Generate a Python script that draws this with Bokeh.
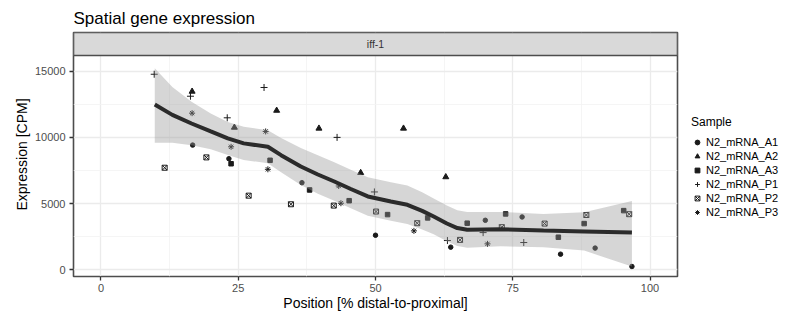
from bokeh.plotting import figure
from bokeh.models import (Range1d, FixedTicker, Legend, LegendItem, BoxAnnotation, Label)
from bokeh.embed import file_html
from bokeh.resources import INLINE

FONT = "Liberation Sans"

# ---- data ----
a1_x = [16.7, 23.3, 36.6, 50.0, 63.7, 70.0, 76.7, 83.7, 90.0, 96.7]
a1_y = [9420, 8390, 6580, 2610, 1710, 3740, 3990, 1180, 1640, 250]
a2_x = [16.6, 24.3, 32.0, 39.7, 47.3, 55.1, 62.8]
a2_y = [13470, 10750, 12030, 10680, 7330, 10680, 7010]
a3_x = [23.7, 30.8, 38.0, 45.2, 52.2, 59.5, 66.7, 73.7, 83.3, 88.0, 95.2]
a3_y = [8010, 8270, 6030, 5220, 4170, 3920, 3520, 4220, 2460, 3490, 4470]
p1_x = [9.7, 16.3, 23.0, 29.7, 43.0, 49.8, 63.1, 69.6, 77.0]
p1_y = [14770, 13110, 11480, 13770, 10000, 5880, 2210, 2810, 2060]
p2_x = [11.6, 19.2, 26.9, 34.6, 42.4, 50.1, 57.6, 65.4, 73.0, 80.8, 88.4, 96.2]
p2_y = [7710, 8490, 5600, 4950, 4850, 4400, 3520, 2260, 3220, 3490, 4140, 4200]
p3_x = [16.6, 23.7, 30.0, 30.4, 43.3, 43.7, 57.0, 70.4]
p3_y = [11830, 9290, 10450, 7590, 6330, 5030, 2940, 1960]

smooth_x = [9.8, 13, 16.5, 20, 23.1, 26, 30.4, 32.8, 36.4, 39.5, 42.5, 45.5,
            48.6, 52.8, 55.8, 58.5, 60.6, 63, 64.9, 66.7, 72.8, 80.6, 88, 96.7]
smooth_y = [12480, 11700, 11050, 10450, 9920, 9550, 9290, 8660, 7800, 7200, 6670, 6100,
            5540, 5160, 4910, 4450, 4030, 3500, 3150, 3020, 3070, 2960, 2900, 2810]
upper_y = [15230, 13800, 12700, 11800, 11170, 10800, 10540, 9960, 9200, 8650, 8120, 7550,
           6990, 6610, 6360, 5850, 5380, 4850, 4500, 4370, 4370, 4210, 4350, 5200]
lower_y = [9600, 9600, 9400, 9100, 8670, 8300, 8040, 7360, 6400, 5750, 5220, 4650,
           4090, 3710, 3460, 3050, 2680, 2150, 1800, 1670, 1770, 1710, 1450, 250]

x_ticks = [0, 25, 50, 75, 100]
x_minor = [12.5, 37.5, 62.5, 87.5]
y_ticks = [0, 5000, 10000, 15000]
y_minor = [2500, 7500, 12500]
samples = ["N2_mRNA_A1", "N2_mRNA_A2", "N2_mRNA_A3", "N2_mRNA_P1", "N2_mRNA_P2", "N2_mRNA_P3"]
facet = "iff-1"

# ---- layout ----
PANEL_TOP = 16186
STRIP_TOP = 17923

p = figure(frame_width=604, frame_height=244,
           min_border_left=73, min_border_right=110, min_border_top=32, min_border_bottom=36,
           x_range=Range1d(-5, 105), y_range=Range1d(-506, STRIP_TOP),
           output_backend="svg", toolbar_location=None)
p.background_fill_color = "white"
p.border_fill_color = "white"
p.outline_line_color = "#4d4d4d"
p.outline_line_width = 1.6

p.title.text = "Spatial gene expression"
p.title.text_font = FONT
p.title.text_font_size = "17px"
p.title.text_font_style = "normal"
p.title.text_color = "#000000"
p.title.align = "left"
p.title.standoff = 10

for g, t, m in ((p.xgrid, x_ticks, x_minor), (p.ygrid, y_ticks, y_minor)):
    g.ticker = FixedTicker(ticks=t, minor_ticks=m)
    g.grid_line_color = "#ebebeb"
    g.grid_line_width = 1.3
    g.minor_grid_line_color = "#f2f2f2"
    g.minor_grid_line_width = 0.8

p.xaxis.ticker = FixedTicker(ticks=x_ticks)
p.yaxis.ticker = FixedTicker(ticks=y_ticks)
for ax in (p.xaxis[0], p.yaxis[0]):
    ax.axis_line_color = None
    ax.minor_tick_line_color = None
    ax.major_tick_line_color = "#333333"
    ax.major_tick_line_width = 1.3
    ax.major_tick_out = 4
    ax.major_tick_in = 0
    ax.major_label_text_font = FONT
    ax.major_label_text_font_size = "11px"
    ax.major_label_text_color = "#4d4d4d"
    ax.major_label_standoff = 4
    ax.axis_label_text_font = FONT
    ax.axis_label_text_font_size = "14px"
    ax.axis_label_text_font_style = "normal"
    ax.axis_label_text_color = "#000000"
    ax.axis_label_standoff = 2
p.xaxis.axis_label = "Position [% distal-to-proximal]"
p.yaxis.axis_label = "Expression [CPM]"
p.yaxis.major_label_orientation = "horizontal"
p.xaxis.major_label_standoff = 3
p.xaxis.axis_label_standoff = 0

# ---- points ----
C = "#1a1a1a"
r_a1 = p.scatter(a1_x, a1_y, marker="circle", size=4.5, color=C)
r_a2 = p.scatter(a2_x, a2_y, marker="triangle", size=6, color=C)
r_a3 = p.scatter(a3_x, a3_y, marker="square", size=4.5, color=C)
r_p1 = p.scatter(p1_x, p1_y, marker="cross", size=7, line_color=C, line_width=1)
r_p2 = p.scatter(p2_x, p2_y, marker="square_x", size=5, line_color=C, fill_color=None, line_width=1)
r_p3 = p.scatter(p3_x, p3_y, marker="asterisk", size=6, line_color=C, line_width=1)

# ---- smooth ----
p.varea(x=smooth_x, y1=lower_y, y2=upper_y, fill_color="#999999", fill_alpha=0.4)
p.line(smooth_x, smooth_y, line_width=4, line_color="#2b2b2b")

# ---- facet strip ----
p.add_layout(BoxAnnotation(bottom=PANEL_TOP, fill_color="#d9d9d9", fill_alpha=1,
                           line_color="#4d4d4d", line_width=1.6, line_alpha=1))
p.add_layout(Label(x=50, y=(PANEL_TOP + STRIP_TOP) / 2, text=facet, text_align="center",
                   text_baseline="middle", text_font=FONT, text_font_size="10.5px",
                   text_color="#333333"))

# ---- legend ----
items = [LegendItem(label=s, renderers=[r]) for s, r in
         zip(samples, [r_a1, r_a2, r_a3, r_p1, r_p2, r_p3])]
legend = Legend(items=items, title="Sample", location=(14, 57),
                border_line_color=None, background_fill_alpha=0,
                label_text_font=FONT, label_text_font_size="11px", label_text_color="#000000",
                title_text_font=FONT, title_text_font_size="12px", title_text_font_style="normal",
                title_text_color="#000000",
                glyph_width=12, glyph_height=14, label_height=14, label_standoff=3,
                spacing=0, padding=4, margin=0, title_standoff=6)
p.add_layout(legend, "right")

open("out.html", "w").write(file_html(p, INLINE))
